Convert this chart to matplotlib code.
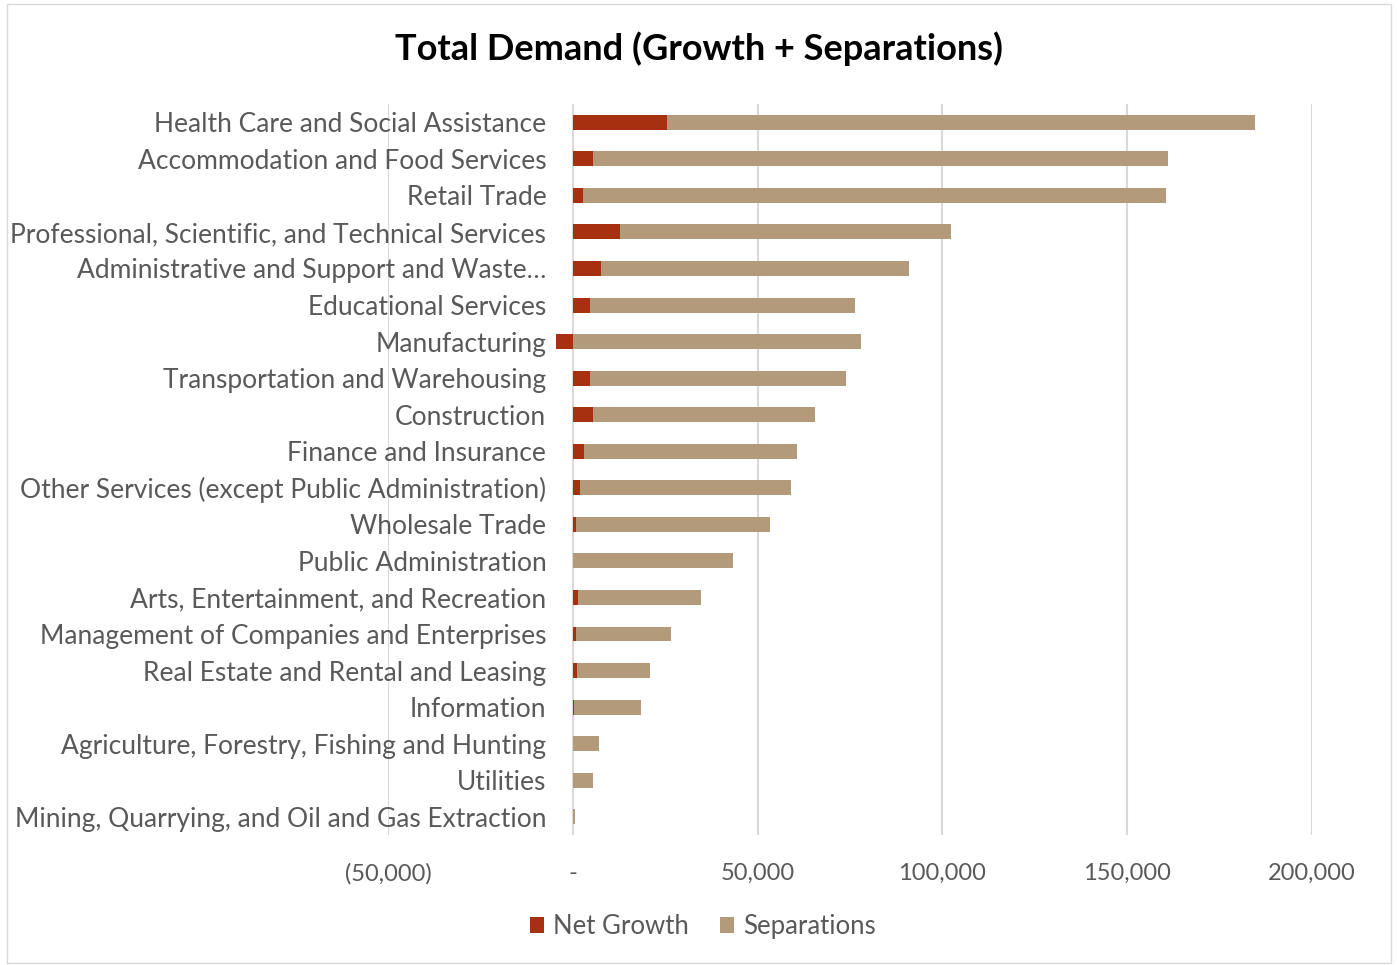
import numpy as np
import matplotlib.pyplot as plt
from matplotlib.ticker import FuncFormatter
from matplotlib.patches import Rectangle

# dane
branze = [
    "Health Care and Social Assistance",
    "Accommodation and Food Services",
    "Retail Trade",
    "Professional, Scientific, and Technical Services",
    "Administrative and Support and Waste…",
    "Educational Services",
    "Manufacturing",
    "Transportation and Warehousing",
    "Construction",
    "Finance and Insurance",
    "Other Services (except Public Administration)",
    "Wholesale Trade",
    "Public Administration",
    "Arts, Entertainment, and Recreation",
    "Management of Companies and Enterprises",
    "Real Estate and Rental and Leasing",
    "Information",
    "Agriculture, Forestry, Fishing and Hunting",
    "Utilities",
    "Mining, Quarrying, and Oil and Gas Extraction",
]
net_growth = [25600, 5600, 2700, 12800, 7600, 4600, -4400, 4600, 5600, 3000,
              1900, 1000, 100, 1460, 900, 1180, 300, 0, 0, 0]
separations = [159000, 155500, 157800, 89500, 83250, 71800, 78000, 69200, 60050, 57670,
               57240, 52440, 43200, 33270, 25600, 19630, 18250, 7050, 5600, 650]
x_ticks = [-50000, 0, 50000, 100000, 150000, 200000]

czerwony = '#A6300F'
bezowy = '#B29A7B'
szary = '#595959'

plt.rcParams['font.family'] = ['Lato', 'DejaVu Sans']

fig = plt.figure(figsize=(13.98, 9.65), dpi=100)
ax = fig.add_axes([0.2775, 0.1347, 0.661, 0.7575])

y = np.arange(len(branze))
ng = np.array(net_growth)
sep = np.array(separations)
start_sep = np.maximum(ng, 0)

ax.barh(y, ng, height=0.41, color=czerwony, label='Net Growth', zorder=3)
ax.barh(y, sep, left=start_sep, height=0.41, color=bezowy, label='Separations', zorder=3)

ax.set_xlim(-50000, 200000)
ax.set_ylim(len(branze) - 0.5, -0.5)
ax.set_xticks(x_ticks)


def fmt(v, pos):
    if v == 0:
        return '-'
    if v < 0:
        return f'({abs(v):,.0f})'
    return f'{v:,.0f}'


ax.xaxis.set_major_formatter(FuncFormatter(fmt))
ax.grid(axis='x', color='#D9D9D9', linewidth=1.5, zorder=0)
ax.set_axisbelow(True)

for s in ['top', 'right', 'bottom']:
    ax.spines[s].set_visible(False)
ax.spines['left'].set_position(('data', 0))
ax.spines['left'].set_visible(False)

ax.set_yticks(y)
ax.set_yticklabels(branze)
ax.tick_params(axis='y', length=0, pad=19, labelsize=19, labelcolor=szary)
ax.tick_params(axis='x', length=0, pad=20, labelsize=17, labelcolor=szary)

fig.suptitle('Total Demand (Growth + Separations)', x=0.5, y=0.968,
             fontsize=26, fontweight='bold', color='black', va='top')

leg = fig.legend(loc='center', bbox_to_anchor=(0.503, 0.040), ncol=2, frameon=False,
                 fontsize=18.5, handlelength=0.55, handleheight=0.55, handletextpad=0.35,
                 columnspacing=1.2)
for t in leg.get_texts():
    t.set_color(szary)

fig.patches.append(Rectangle((0.005, 0.002), 0.99, 0.994, transform=fig.transFigure,
                             fill=False, edgecolor='#D9D9D9', linewidth=1))

plt.savefig('out.png', dpi=100)
